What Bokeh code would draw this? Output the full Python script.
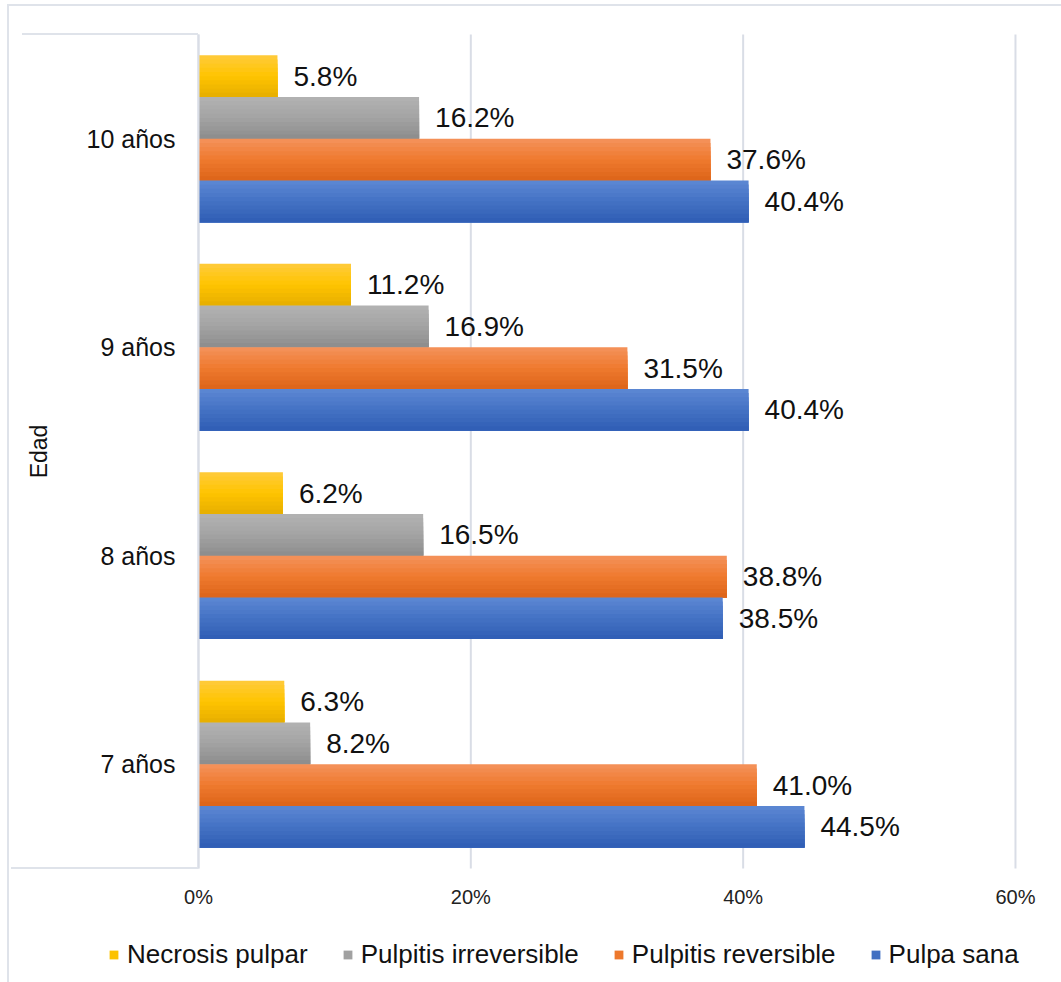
from bokeh.plotting import figure
from bokeh.models import (Range1d, FixedTicker, ColumnDataSource,
                          Legend, LegendItem, InlineStyleSheet)
from bokeh.transform import dodge
from bokeh.core.properties import value
from bokeh.embed import file_html
from bokeh.resources import INLINE

ages = ["7 años", "8 años", "9 años", "10 años"]
necrosis_pulpar = [6.3, 6.2, 11.2, 5.8]
pulpitis_irreversible = [8.2, 16.5, 16.9, 16.2]
pulpitis_reversible = [41.0, 38.8, 31.5, 37.6]
pulpa_sana = [44.5, 38.5, 40.4, 40.4]
series_names = ["Necrosis pulpar", "Pulpitis irreversible", "Pulpitis reversible", "Pulpa sana"]
x_ticks = [0, 20, 40, 60]
x_tick_labels = ["0%", "20%", "40%", "60%"]

series_values = [necrosis_pulpar, pulpitis_irreversible, pulpitis_reversible, pulpa_sana]
# (top, middle, bottom) shades of each series' fill, Office-style vertical gradient
shades = [("#FFCB3C", "#FFC400", "#E6AE00"),
          ("#B3B3B3", "#A3A3A3", "#8C8C8C"),
          ("#F4925C", "#EF7A2E", "#DC6419"),
          ("#5D88D4", "#4472C4", "#2F5DB4")]
offsets = [0.3, 0.1, -0.1, -0.3]
BAR_H = 0.2
STRIPS = 10

FONT = "Liberation Sans"
n = len(ages)
age_pos = [i + 0.5 for i in range(n)]   # category centres on the age axis


def _mix(a, b, t):
    a = [int(a[i:i + 2], 16) for i in (1, 3, 5)]
    b = [int(b[i:i + 2], 16) for i in (1, 3, 5)]
    return "#%02x%02x%02x" % tuple(round(x + (y - x) * t) for x, y in zip(a, b))


def shade_at(sh, t):
    return _mix(sh[0], sh[1], t * 2) if t < 0.5 else _mix(sh[1], sh[2], (t - 0.5) * 2)


p = figure(width=1061, height=982, output_backend="svg", toolbar_location=None,
           x_range=Range1d(-14.54, 63.38), y_range=Range1d(-0.547, n + 0.163),
           min_border=0)
p.outline_line_color = None
p.background_fill_color = "white"
p.border_fill_color = "white"
p.xgrid.grid_line_color = None
p.ygrid.grid_line_color = None

# vertical grid lines at the x ticks, spanning the category band
p.segment(x0=x_ticks, x1=x_ticks, y0=[0] * len(x_ticks), y1=[n] * len(x_ticks),
          line_color="#d9dde6", line_width=2)

# x axis
p.xaxis.fixed_location = 0
p.xaxis.ticker = FixedTicker(ticks=x_ticks)
p.xaxis.major_label_overrides = {t: l for t, l in zip(x_ticks, x_tick_labels)}
p.xaxis.axis_line_color = None
p.xaxis.major_tick_line_color = None
p.xaxis.major_tick_out = 0
p.xaxis.minor_tick_line_color = None
p.xaxis.major_label_text_font = FONT
p.xaxis.major_label_text_font_size = "20px"
p.xaxis.major_label_text_color = "#222222"
p.xaxis.major_label_standoff = 18

# y axis (ages)
p.yaxis.fixed_location = 0
p.yaxis.bounds = (0, n)
p.yaxis.ticker = FixedTicker(ticks=age_pos)
p.yaxis.major_label_overrides = {pos: a for pos, a in zip(age_pos, ages)}
p.yaxis.axis_line_color = "#d9dde6"
p.yaxis.axis_line_width = 2
p.yaxis.major_tick_line_color = None
p.yaxis.major_tick_out = 0
p.yaxis.minor_tick_line_color = None
p.yaxis.major_label_text_font = FONT
p.yaxis.major_label_text_font_size = "25px"
p.yaxis.major_label_text_color = "#111111"
p.yaxis.major_label_standoff = 23
p.yaxis.axis_label = "Edad"
p.yaxis.axis_label_text_font = FONT
p.yaxis.axis_label_text_font_size = "23px"
p.yaxis.axis_label_text_font_style = "normal"
p.yaxis.axis_label_text_color = "#111111"
p.yaxis.axis_label_standoff = 32

items = []
strip_h = BAR_H / STRIPS
for name, vals, sh, off in zip(series_names, series_values, shades, offsets):
    src = ColumnDataSource(dict(pos=age_pos, age=ages, val=vals,
                                lab=[f"{v:.1f}%" for v in vals]))
    legend_r = None
    for k in range(STRIPS):
        # each layer runs from its own top edge down to the bar's bottom edge,
        # so successive layers paint a smooth top-to-bottom shading
        r = p.hbar(y=dodge("pos", off - k * strip_h / 2), right="val", left=0,
                   height=BAR_H - k * strip_h, source=src,
                   fill_color=shade_at(sh, (k + 0.5) / STRIPS), line_color=None)
        if k == STRIPS // 2:
            legend_r = r
    p.text(x="val", y=dodge("pos", off), text="lab", source=src,
           x_offset=16, text_baseline="middle", text_align="left",
           text_font=value(FONT), text_font_size="28px", text_color="#111111")
    items.append(LegendItem(label=name, renderers=[legend_r]))

legend = Legend(items=items, orientation="horizontal", location=(108, 12),
                label_text_font=FONT, label_text_font_size="26px", label_text_color="#111111",
                glyph_width=11, glyph_height=11, label_standoff=8, spacing=34,
                padding=0, margin=0, border_line_color=None, background_fill_alpha=0)
p.add_layout(legend, "center")

# decorative frame lines (chart-area border and category axis box)
c = "#dfe3ea"
css = f"""
:host {{ position: relative; }}
:host::after {{
  content: ""; position: absolute; left: 0; top: 0; width: 1061px; height: 982px;
  pointer-events: none; z-index: 50;
  background-image: linear-gradient({c},{c}), linear-gradient({c},{c}),
                    linear-gradient({c},{c}), linear-gradient({c},{c});
  background-repeat: no-repeat;
  background-size: 1054px 2px, 2px 978px, 176px 2px, 187px 2px;
  background-position: 7px 4px, 7px 4px, 22px 33px, 11px 867px;
}}
"""
p.stylesheets = [InlineStyleSheet(css=css)]

open("out.html", "w").write(file_html(p, INLINE))
